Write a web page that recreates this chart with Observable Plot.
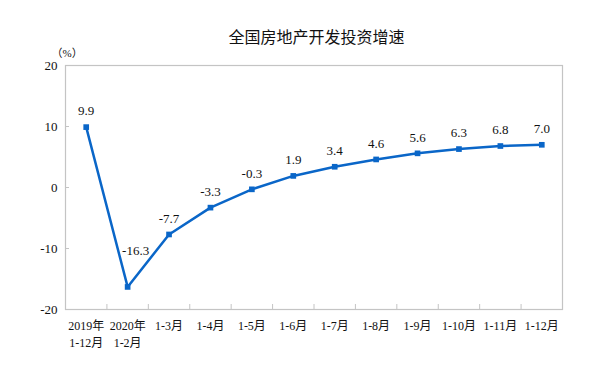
<!DOCTYPE html>
<html>
<head>
<meta charset="utf-8">
<script src="https://cdn.jsdelivr.net/npm/d3@7"></script>
<script src="https://cdn.jsdelivr.net/npm/@observablehq/plot@0.6"></script>
<style>
  html, body { margin: 0; padding: 0; background: #fff; }
  #wrap { position: relative; width: 599px; height: 382px; }
  #title { position: absolute; left: 34px; width: 565px; top: 26px; text-align: center;
    font-family: "Noto Sans CJK SC", sans-serif; font-size: 16px; color: #111; line-height: 20px; }
  #chart { position: absolute; left: 0; top: 0; }
</style>
</head>
<body>
<div id="wrap">
  <div id="chart"></div>
  <div id="title">全国房地产开发投资增速</div>
</div>
<script>
const categories = ["2019年\n1-12月", "2020年\n1-2月", "1-3月", "1-4月", "1-5月", "1-6月", "1-7月", "1-8月", "1-9月", "1-10月", "1-11月", "1-12月"];
const values = [9.9, -16.3, -7.7, -3.3, -0.3, 1.9, 3.4, 4.6, 5.6, 6.3, 6.8, 7.0];
const labels = ["9.9", "-16.3", "-7.7", "-3.3", "-0.3", "1.9", "3.4", "4.6", "5.6", "6.3", "6.8", "7.0"];
const yTicks = [-20, -10, 0, 10, 20];
const unitLabel = "（%）";

const data = categories.map((c, i) => ({i, c, v: values[i], t: labels[i]}));
const idx = d3.range(categories.length);
const bounds = d3.range(categories.length - 1).map(i => i + 0.5);
const blue = "#0a66c8";
const serif = "Liberation Serif, Times New Roman, Noto Sans CJK SC, serif";

const chart = Plot.plot({
  width: 599,
  height: 382,
  marginTop: 65,
  marginBottom: 73,
  marginLeft: 65,
  marginRight: 37,
  style: {fontFamily: serif, fontSize: "13px", color: "#111", background: "transparent"},
  x: {type: "linear", domain: [-0.5, categories.length - 0.5], axis: null},
  y: {domain: [-20, 20], axis: null},
  marks: [
    Plot.frame({stroke: "#c4c4c4", strokeWidth: 1.2}),
    Plot.axisY({ticks: yTicks, tickSize: 4, tickFormat: () => "", dx: 4, stroke: "#c4c4c4", label: null}),
    Plot.axisY({ticks: yTicks, tickSize: 0, tickPadding: 8, tickFormat: d => String(d), fontSize: 13, fill: "#111", label: null}),
    Plot.axisX({ticks: bounds, tickSize: 5, tickFormat: () => "", dy: -5, stroke: "#c4c4c4", label: null}),
    Plot.axisX({ticks: idx, tickSize: 0, tickPadding: 9, tickFormat: i => categories[i], fontSize: 12, lineHeight: 1.4, fill: "#111", label: null}),
    Plot.text([unitLabel], {frameAnchor: "top-left", dx: -14, dy: -16, fontSize: 11, fill: "#111"}),
    Plot.line(data, {x: "i", y: "v", stroke: blue, strokeWidth: 2.5}),
    Plot.dot(data, {x: "i", y: "v", symbol: "square", r: 3.2, fill: blue, stroke: "none"}),
    Plot.text(data.filter(d => d.v > -10), {x: "i", y: "v", text: "t", dy: -16, fontSize: 13, fill: "#111"}),
    Plot.text(data.filter(d => d.v <= -10), {x: "i", y: "v", text: "t", dx: 8, dy: -36, fontSize: 13, fill: "#111"})
  ]
});
document.getElementById("chart").appendChild(chart);
</script>
</body>
</html>
